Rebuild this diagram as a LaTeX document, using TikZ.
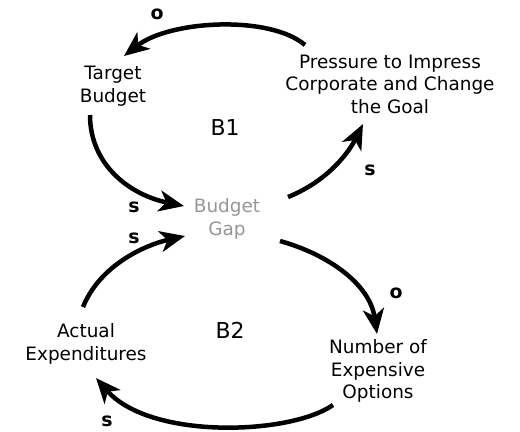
\documentclass[tikz,border=0pt]{standalone}
\usepackage{fontspec}
\setmainfont{DejaVu Sans}
\usetikzlibrary{arrows.meta}
\definecolor{gaygray}{RGB}{150,150,150}
\begin{document}
\begin{tikzpicture}[x=1bp,y=-1bp,
  lbl/.style={font=\fontsize{18.5}{22.5}\selectfont, align=center, inner sep=0pt},
  big/.style={font=\fontsize{22}{24}\selectfont, inner sep=0pt},
  pol/.style={font=\fontsize{19}{20}\selectfont\bfseries, inner sep=0pt},
  link/.style={line width=4.5bp, -{Stealth[length=25bp,width=21bp,inset=7bp]}}]
\useasboundingbox (0,0) rectangle (520,431);
\node[lbl] (tb) at (113,86) {Target\\Budget};
\node[lbl] (pr) at (390,84) {Pressure to Impress\\Corporate and Change\\the Goal};
\node[lbl, text=gaygray] (bg) at (227,219) {Budget\\Gap};
\node[lbl] (ae) at (86,344) {Actual\\Expenditures};
\node[lbl] (ne) at (378,371) {Number of\\Expensive\\Options};
\node[big] (b1) at (225,128) {B1};
\node[big] (b2) at (230,330) {B2};
\coordinate (p1) at (305,45);  \coordinate (t1) at (124,56);
\coordinate (t2) at (90,115);  \coordinate (g1) at (184,206);
\coordinate (g2) at (288,197); \coordinate (p2) at (363,124);
\coordinate (g3) at (280,241); \coordinate (n1) at (377,334);
\coordinate (n2) at (333,405); \coordinate (a1) at (96,378);
\coordinate (a2) at (83,307);  \coordinate (g4) at (185,236);
\draw[link] (p1) .. controls (270,15) and (170,20) .. (t1);
\draw[link] (t2) .. controls (90,165) and (130,195) .. (g1);
\draw[link] (g2) .. controls (330,180) and (350,150) .. (p2);
\draw[link] (g3) .. controls (330,255) and (370,285) .. (n1);
\draw[link] (n2) .. controls (290,435) and (150,440) .. (a1);
\draw[link] (a2) .. controls (100,265) and (145,245) .. (g4);
\node[pol] (o1) at (157,14) {o};
\node[pol] (s1) at (134,207) {s};
\node[pol] (s2) at (134,238) {s};
\node[pol] (s3) at (370,170) {s};
\node[pol] (o2) at (396,293) {o};
\node[pol] (s4) at (107,421) {s};
\end{tikzpicture}
\end{document}
